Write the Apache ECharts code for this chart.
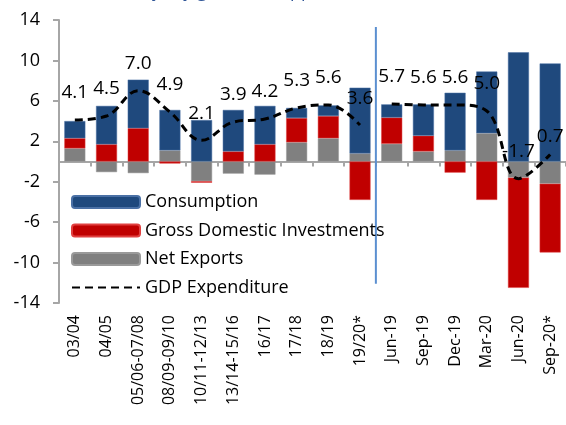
<!DOCTYPE html>
<html>
<head>
<meta charset="utf-8">
<script src="https://cdn.jsdelivr.net/npm/echarts@6/dist/echarts.min.js"></script>
<style>
  html, body { margin: 0; padding: 0; background: #fff; }
  #chart { width: 566px; height: 425px; }
</style>
</head>
<body>
<div id="chart"></div>
<script>
// periods on the x axis
const categories = ['03/04', '04/05', '05/06-07/08', '08/09-09/10', '10/11-12/13', '13/14-15/16',
  '16/17', '17/18', '18/19', '19/20*', 'Jun-19', 'Sep-19', 'Dec-19', 'Mar-20', 'Jun-20', 'Sep-20*']

// contributions (pp)
const consumption = [1.7, 3.8, 4.8, 4.0, 4.1, 4.1, 3.8, 1.0, 1.05, 6.5, 1.3, 3.1, 5.7, 6.1, 10.8, 9.7]
const investments = [1.0, 1.7, 3.3, -0.2, -0.15, 1.0, 1.7, 2.4, 2.2, -3.8, 2.6, 1.55, -1.1, -3.8, -10.9, -6.8]
const netExports = [1.3, -1.05, -1.15, 1.1, -1.95, -1.2, -1.3, 1.9, 2.3, 0.8, 1.75, 1.0, 1.1, 2.8, -1.6, -2.2]
const gdp = [4.1, 4.5, 7.0, 4.9, 2.1, 3.9, 4.2, 5.3, 5.6, 3.6, 5.7, 5.6, 5.6, 5.0, -1.7, 0.7]

// fiscal years end at index 9, quarters start at 10
const splitIndex = 10
const dividerRange = [13.3, -12.1]

const yTicks = { min: -14, max: 14, interval: 4 }

const FONT = '"Open Sans", sans-serif'

const chart = echarts.init(document.getElementById('chart'))

const pointFor = (v) => (v === 0.7 ? { value: v, label: { distance: 8 } } : v)
const gdpYears = gdp.map((v, i) => (i < splitIndex ? pointFor(v) : '-'))
const gdpQuarters = gdp.map((v, i) => (i >= splitIndex ? pointFor(v) : '-'))

const gdpLine = (name, data) => ({
  name: name,
  type: 'line',
  data: data,
  xAxisIndex: 0,
  smooth: 0.4,
  symbol: 'circle',
  symbolSize: 1,
  showSymbol: true,
  z: 5,
  lineStyle: { color: '#000', width: 3, type: [8, 5] },
  itemStyle: { color: 'rgba(0,0,0,0)' },
  label: {
    show: true,
    position: 'top',
    distance: 17,
    color: '#000',
    fontSize: 19,
    fontFamily: FONT,
    formatter: (p) => Number(p.value).toFixed(1),
  },
})

const option = {
  animation: false,
  backgroundColor: '#fff',
  title: {
    text: '(Contributions to y-o-y growth, %, pp)',
    left: 0,
    top: -22,
    textStyle: { color: '#2F5597', fontSize: 18, fontWeight: 'normal', fontFamily: FONT },
  },
  grid: { left: 59, right: -4, top: 20, bottom: 122 },
  legend: {
    data: [
      'Consumption',
      'Gross Domestic Investments',
      'Net Exports',
      { name: 'GDP Expenditure', itemStyle: { opacity: 0 } },
    ],
    orient: 'vertical',
    left: 66,
    top: 188,
    itemWidth: 68,
    itemHeight: 12,
    itemGap: 10.5,
    textStyle: { color: '#000', fontSize: 18, fontFamily: FONT, lineHeight: 18 },
  },
  xAxis: [
    {
      type: 'category',
      data: categories,
      position: 'bottom',
      axisLine: { show: false, onZero: false },
      axisTick: { show: false },
      axisLabel: { rotate: 90, interval: 0, margin: 12, color: '#000', fontSize: 16, fontFamily: FONT },
    },
    {
      type: 'category',
      data: categories,
      position: 'bottom',
      axisLine: { show: true, onZero: true, lineStyle: { color: '#A6A6A6', width: 2 } },
      axisTick: { show: true, interval: 0, length: 5, lineStyle: { color: '#A6A6A6', width: 2 } },
      axisLabel: { show: false },
    },
    { type: 'value', min: 0, max: categories.length, show: false },
  ],
  yAxis: {
    type: 'value',
    min: yTicks.min,
    max: yTicks.max,
    interval: yTicks.interval,
    axisLine: { show: true, lineStyle: { color: '#A6A6A6', width: 2 } },
    axisTick: { show: true, length: 6, lineStyle: { color: '#A6A6A6', width: 2 } },
    splitLine: { show: false },
    axisLabel: { color: '#000', fontSize: 18, fontFamily: FONT, margin: 19 },
  },
  series: [
    {
      name: 'Net Exports',
      type: 'bar',
      stack: 'c',
      data: netExports,
      barWidth: 21,
      itemStyle: { color: '#808080', borderColor: '#9a9a9a', borderWidth: 0.5 },
    },
    {
      name: 'Gross Domestic Investments',
      type: 'bar',
      stack: 'c',
      data: investments,
      itemStyle: { color: '#C00000', borderColor: '#e04040', borderWidth: 0.5 },
    },
    {
      name: 'Consumption',
      type: 'bar',
      stack: 'c',
      data: consumption,
      itemStyle: { color: '#1F497D', borderColor: '#4a70a5', borderWidth: 0.5 },
    },
    gdpLine('GDP Expenditure', gdpYears),
    gdpLine('GDP Expenditure', gdpQuarters),
    {
      name: 'divider',
      type: 'line',
      xAxisIndex: 2,
      data: dividerRange.map((y) => [splitIndex, y]),
      symbol: 'none',
      z: 1,
      lineStyle: { color: '#5B8FD0', width: 2 },
    },
  ],
}

chart.setOption(option)
</script>
</body>
</html>
